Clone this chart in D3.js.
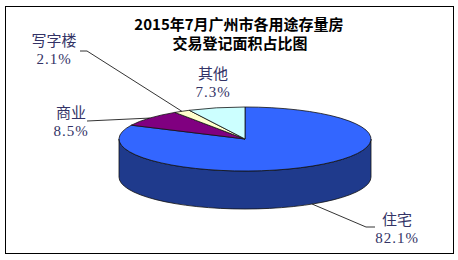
<!DOCTYPE html>
<html>
<head>
<meta charset="utf-8">
<script src="https://d3js.org/d3.v7.min.js"></script>
<style>
  body { margin: 0; background: #fff; }
  .title { font-family: "Noto Sans CJK SC", "Liberation Sans", sans-serif; font-weight: bold; font-size: 15px; fill: #000; }
  .lbl { font-family: "Noto Sans CJK SC", serif; font-size: 15px; fill: #333366; }
  .pct { font-family: "Liberation Serif", "DejaVu Serif", serif; font-size: 15px; fill: #333366; letter-spacing: 1px; }
</style>
</head>
<body>
<div id="chart"></div>
<script>
// data
const categories = ["住宅", "商业", "写字楼", "其他"];
const shares = [82.1, 8.5, 2.1, 7.3];
const pctLabels = ["82.1%", "8.5%", "2.1%", "7.3%"];
const topColors = ["#3366ff", "#800080", "#ffffcc", "#ccffff"];
const sideColors = ["#1f3a8c", "#4a004a", "#a6a680", "#85a6a6"];

const W = 458, H = 260;
const cx = 245, cy = 139, rx = 126, ry = 32, depth = 38;

const svg = d3.select("#chart").append("svg")
  .attr("width", W).attr("height", H);

svg.append("rect")
  .attr("x", 5.5).attr("y", 6.5).attr("width", 448).attr("height", 247)
  .attr("fill", "#fff").attr("stroke", "#000").attr("stroke-width", 1);

// title
svg.append("text").attr("class", "title")
  .attr("x", 239).attr("y", 30).attr("text-anchor", "middle")
  .text("2015年7月广州市各用途存量房");
svg.append("text").attr("class", "title")
  .attr("x", 240).attr("y", 49).attr("text-anchor", "middle")
  .text("交易登记面积占比图");

const pie = d3.pie().sort(null).value(d => d)
  .startAngle(0).endAngle(2 * Math.PI);
const arcs = pie(shares);

function pt(a, dy) {
  return [cx + rx * Math.sin(a), cy - ry * Math.cos(a) + (dy || 0)];
}

function topPath(d) {
  const p0 = pt(d.startAngle), p1 = pt(d.endAngle);
  const large = d.endAngle - d.startAngle > Math.PI ? 1 : 0;
  return "M" + cx + "," + cy + "L" + p0 + "A" + rx + "," + ry + " 0 " + large + " 1 " + p1 + "Z";
}

function sidePath(d) {
  const a0 = Math.max(d.startAngle, Math.PI / 2);
  const a1 = Math.min(d.endAngle, 3 * Math.PI / 2);
  if (a1 <= a0) return null;
  const p0 = pt(a0), p1 = pt(a1), q0 = pt(a0, depth), q1 = pt(a1, depth);
  return "M" + p0 + "A" + rx + "," + ry + " 0 0 1 " + p1 + "L" + q1 +
    "A" + rx + "," + ry + " 0 0 0 " + q0 + "Z";
}

// sides
svg.selectAll("path.side").data(arcs).enter()
  .filter(d => sidePath(d) !== null)
  .append("path").attr("class", "side")
  .attr("d", sidePath)
  .attr("fill", d => sideColors[d.index])
  .attr("stroke", "#111").attr("stroke-width", 0.8);

// tops
svg.selectAll("path.top").data(arcs).enter()
  .append("path").attr("class", "top")
  .attr("d", topPath)
  .attr("fill", d => topColors[d.index])
  .attr("stroke", "#111").attr("stroke-width", 0.8);

// label layout (positions only)
const labelPos = [
  { x: 397, y: 225, lead: [[375, 227], [366, 227]], onSide: true },
  { x: 71, y: 118, lead: [[87, 121]], onSide: false },
  { x: 54, y: 46, lead: [[80, 51], [87, 51]], onSide: false },
  { x: 213, y: 79, lead: null, onSide: false }
];

arcs.forEach((d, i) => {
  const lp = labelPos[i];
  const mid = (d.startAngle + d.endAngle) / 2;
  if (lp.lead) {
    const anchor = pt(mid, lp.onSide ? depth : 0);
    const pts = lp.lead.concat([anchor]);
    svg.append("path")
      .attr("d", d3.line()(pts))
      .attr("fill", "none").attr("stroke", "#000").attr("stroke-width", 0.8);
  }
  svg.append("text").attr("class", "lbl")
    .attr("x", lp.x).attr("y", lp.y).attr("text-anchor", "middle")
    .text(categories[i]);
  svg.append("text").attr("class", "pct")
    .attr("x", lp.x).attr("y", lp.y + 18).attr("text-anchor", "middle")
    .text(pctLabels[i]);
});
</script>
</body>
</html>
